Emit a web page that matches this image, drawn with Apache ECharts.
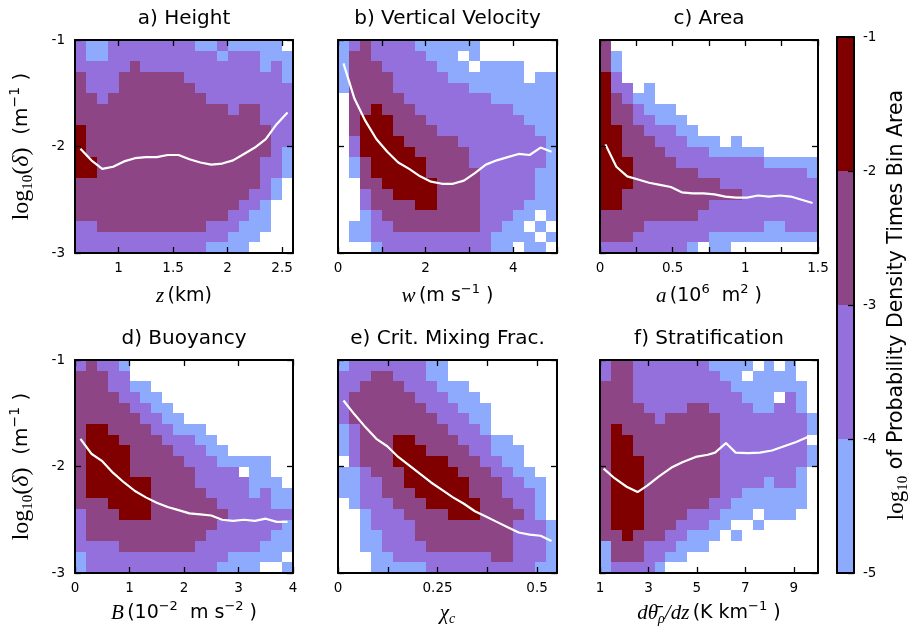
<!DOCTYPE html>
<html><head><meta charset="utf-8">
<script src="https://cdn.jsdelivr.net/npm/echarts@6/dist/echarts.min.js"></script>
<style>html,body{margin:0;padding:0;background:#fff}#c{width:912px;height:632px}</style>
</head><body><div id="c"></div>
<script>
// Cell classes (rows top -> bottom, y from -1 down to -3, 20 x-bins each):
// 0 = empty, 1 = [-5,-4), 2 = [-4,-3), 3 = [-3,-2), 4 = [-2,-1]  (log10 of probability density times bin area)
const gridA = [
"21122222222112111110","21122222222221222111","22222322222222222121","32223333332222222221",
"32223333333222222222","33233333333322222222","33333333333333233222","33333333333333333222",
"43333333333333333322","43333333333333333322","43333333333333333321","44333333333333333221",
"44333333333333333221","33333333333333333210","33333333333333332210","33333333333333322100",
"33333333333333221100","22333333333322211100","22222222222222111000","22222222222211110000"];
const gridB = [
"12322221111110000000","13322222111010000000","13332222211101111000","13333222221111111011",
"13333222222211111111","03333322222222111111","03343332222222221111","03444333222222222111",
"03444333322222222211","02444433333222222221","02444443333322222221","01344444333322222221",
"01344444333332222211","00334444433332222211","00233444433332222211","00233334433332222111",
"00123333333332221101","01122333333332211010","01122222222222111101","00012222222222110110"];
const gridC = [
"30000000000000000000","31000000000000000000","31000000000000000000","42000000000000000000",
"42201000000000000000","43211000000000000000","43321110000000000000","43322111000000000000",
"44332221100000000000","44333222111010000000","44333322221111100000","44433332222222211111",
"44433333322222222221","44433333333222222222","44333333333332222222","44333333332222222222",
"33333333322222222222","33332222222222211222","33322222221111111111","22222222101100000000"];
const gridD = [
"23221000000000000000","33322000000000000000","33322110000000000000","33332211000000000000",
"33333221100000000000","33333322110000000000","34433332211100000000","34443333222110000000",
"34444333322211000000","34444333332221111100","34444333333222201100","34444443333222221110",
"34444443333322221211","33344443333332222211","23334443333333222222","23333333333332222221",
"23333333333322222211","22223333333222222111","12222222222222111110","12222222222221111001"];
const gridE = [
"12222222110000000000","22233222110000000000","22333322211100000000","23333332221110000000",
"23333333222111000000","23333333322211000000","12333333332221000000","12333443333222110000",
"12333444333322111000","02333444443332211000","11233344444333221100","11223344444433322110",
"11223334444433322210","01222333444443332210","00122233334443333210","00122223333333332221",
"00112223333333332221","00112222333333332221","00011222222222332221","00011111222222222211"];
const gridF = [
"23322222221111010100","23322222222110111100","33322222222211111110","33322222222221110210",
"33332222332222112210","33333233333222222221","34333333333222222221","34433333333222222220",
"34433333333222222221","34443333333222222221","34443333333222222210","34443333333222212210",
"34443333333221111110","34443333332211111110","34443333222111011100","34443332221100100000",
"33433322111010000000","13332221110000000000","13332211000000000000","12222100000000000000"];

// Mean curves (white lines)
const lineAx = [0.65,0.75,0.85,0.95,1.05,1.15,1.25,1.35,1.45,1.55,1.65,1.75,1.85,1.95,2.05,2.15,2.25,2.35,2.45,2.55];
const lineAy = [-2.02,-2.13,-2.21,-2.19,-2.14,-2.11,-2.10,-2.10,-2.08,-2.08,-2.12,-2.15,-2.17,-2.16,-2.13,-2.07,-2.01,-1.93,-1.79,-1.68];
const lineBx = [0.125,0.375,0.625,0.875,1.125,1.375,1.625,1.875,2.125,2.375,2.625,2.875,3.125,3.375,3.625,3.875,4.125,4.375,4.625,4.875];
const lineBy = [-1.22,-1.55,-1.76,-1.93,-2.05,-2.15,-2.21,-2.28,-2.33,-2.35,-2.35,-2.32,-2.25,-2.17,-2.13,-2.10,-2.07,-2.08,-2.01,-2.05];
const lineCx = [0.0375,0.1125,0.1875,0.2625,0.3375,0.4125,0.4875,0.5625,0.6375,0.7125,0.7875,0.8625,0.9375,1.0125,1.0875,1.1625,1.2375,1.3125,1.3875,1.4625];
const lineCy = [-1.98,-2.19,-2.28,-2.31,-2.34,-2.36,-2.38,-2.43,-2.44,-2.44,-2.45,-2.47,-2.48,-2.48,-2.46,-2.47,-2.46,-2.47,-2.50,-2.53];
const lineDx = [0.1,0.3,0.5,0.7,0.9,1.1,1.3,1.5,1.7,1.9,2.1,2.3,2.5,2.7,2.9,3.1,3.3,3.5,3.7,3.9];
const lineDy = [-1.74,-1.88,-1.95,-2.06,-2.15,-2.23,-2.29,-2.34,-2.38,-2.41,-2.44,-2.45,-2.46,-2.50,-2.51,-2.50,-2.51,-2.49,-2.52,-2.52];
const lineEx = [0.01375,0.04125,0.06875,0.09625,0.12375,0.15125,0.17875,0.20625,0.23375,0.26125,0.28875,0.31625,0.34375,0.37125,0.39875,0.42625,0.45375,0.48125,0.50875,0.53625];
const lineEy = [-1.38,-1.51,-1.63,-1.74,-1.81,-1.91,-1.99,-2.07,-2.15,-2.22,-2.29,-2.35,-2.42,-2.47,-2.52,-2.57,-2.62,-2.64,-2.65,-2.70];
const lineFx = [1.15,1.6,2.1,2.55,2.95,3.45,3.95,4.4,4.95,5.45,5.75,6.2,6.6,7.1,7.6,8.1,8.6,9.1,9.6];
const lineFy = [-2.02,-2.11,-2.19,-2.24,-2.18,-2.09,-2.01,-1.96,-1.91,-1.89,-1.87,-1.78,-1.87,-1.875,-1.87,-1.85,-1.81,-1.77,-1.72];

// Axis ranges, ticks and labels
const titles = ["a) Height","b) Vertical Velocity","c) Area","d) Buoyancy","e) Crit. Mixing Frac.","f) Stratification"];
const xRanges = [[0.6,2.6],[0,5],[0,1.5],[0,4],[0,0.55],[1,10]];
const xTicks = [[1,1.5,2,2.5],[0,1,2,3,4,5],[0,0.25,0.5,0.75,1,1.25,1.5],[0,1,2,3,4],[0,0.125,0.25,0.375,0.5],[1,3,5,7,9]];
const xTickLabels = [[1,1.5,2,2.5],[0,2,4],[0,0.5,1,1.5],[0,1,2,3,4],[0,0.25,0.5],[1,3,5,7,9]];
const yRange = [-3,-1];
const yTicks = [-3,-2,-1];
const cbTicks = [-5,-4,-3,-2,-1];
const xNames = [
  "{i|z} {n|(km)}",
  "{i|w} {n|(m s}{sp|−1}{n| )}",
  "{i|a} {n|(10}{sp|6}{n|  m}{sp|2}{n| )}",
  "{i|B} {n|(10}{sp|−2}{n|  m s}{sp|−2}{n| )}",
  "{i|χ}{sb|c}",
  "{i|dθ̄}{sb|ρ}{i|/dz} {n|(K km}{sp|−1}{n| )}"
];
const yName = "{s|log}{sb|10}{s|(}{i|δ}{s|)}{n|  (m}{sp|−1}{n| )}";
const cbName = "{s|log}{sb|10}{n| of Probability Density Times Bin Area}";

const levelColors = [null,'#8daafc','#9370db','#8e4585','#800000'];
const grids = [gridA,gridB,gridC,gridD,gridE,gridF];
const lines = [[lineAx,lineAy],[lineBx,lineBy],[lineCx,lineCy],[lineDx,lineDy],[lineEx,lineEy],[lineFx,lineFy]];

const boxes = [[75,40,218,213],[338,40,219,213],[600,40,218,213],[75,360,218,213],[338,360,219,213],[600,360,218,213]];

const rich = {
  n:{fontFamily:'DejaVu Sans',fontSize:19,lineHeight:26,color:'#000'},
  s:{fontFamily:'Liberation Serif',fontSize:21,lineHeight:26,color:'#000'},
  i:{fontFamily:'Liberation Serif',fontStyle:'italic',fontSize:21,lineHeight:26,color:'#000'},
  sp:{fontFamily:'DejaVu Sans',fontSize:13,lineHeight:13,verticalAlign:'top',color:'#000'},
  sb:{fontFamily:'Liberation Serif',fontStyle:'italic',fontSize:14,lineHeight:14,verticalAlign:'bottom',color:'#000'}
};
const richY = {
  n:{fontFamily:'DejaVu Sans',fontSize:20,lineHeight:28,color:'#000'},
  s:{fontFamily:'Liberation Serif',fontSize:24,lineHeight:28,color:'#000'},
  i:{fontFamily:'Liberation Serif',fontStyle:'italic',fontSize:24,lineHeight:28,color:'#000'},
  sp:{fontFamily:'DejaVu Sans',fontSize:14,lineHeight:14,verticalAlign:'top',color:'#000'},
  sb:{fontFamily:'Liberation Serif',fontSize:15,lineHeight:14,verticalAlign:'bottom',color:'#000'}
};
const richCb = {
  n:{fontFamily:'DejaVu Sans',fontSize:20.5,lineHeight:28,color:'#000'},
  s:{fontFamily:'Liberation Serif',fontSize:23,lineHeight:28,color:'#000'},
  sb:{fontFamily:'Liberation Serif',fontSize:15,lineHeight:14,verticalAlign:'bottom',color:'#000'}
};

function cells(rows, xr, yr){
  const nr = rows.length, nc = rows[0].length;
  const dx = (xr[1]-xr[0])/nc, dy = (yr[1]-yr[0])/nr;
  const out = [];
  rows.forEach((row,r)=>{
    for(let c=0;c<nc;c++){
      const k = +row[c];
      if(k>0) out.push([xr[0]+c*dx, yr[1]-(r+1)*dy, xr[0]+(c+1)*dx, yr[1]-r*dy, k]);
    }
  });
  return out;
}
function renderCell(params, api){
  const a = api.coord([api.value(0), api.value(1)]);
  const b = api.coord([api.value(2), api.value(3)]);
  const x0 = Math.round(a[0]), x1 = Math.round(b[0]), y0 = Math.round(b[1]), y1 = Math.round(a[1]);
  return {type:'rect', shape:{x:x0,y:y0,width:x1-x0,height:y1-y0}, style:{fill:levelColors[api.value(4)]}};
}
function axisBase(gi, min, max, ticks, pos){
  return {type:'value', gridIndex:gi, min:min, max:max, position:pos, z:5,
    axisLine:{show:true,onZero:false,lineStyle:{color:'#000',width:2}},
    axisTick:{show:true,inside:true,length:6,customValues:ticks,lineStyle:{color:'#000',width:1.3}},
    axisLabel:{show:false}, splitLine:{show:false}};
}

const option = {animation:false, grid:[], xAxis:[], yAxis:[], series:[]};
const labelStyle = {show:true,fontFamily:'DejaVu Sans',fontSize:13.5,color:'#000'};
for(let i=0;i<6;i++){
  const bx = boxes[i];
  option.grid.push({left:bx[0],top:bx[1],width:bx[2],height:bx[3],containLabel:false});
  const xb = axisBase(i, xRanges[i][0], xRanges[i][1], xTicks[i], 'bottom');
  xb.axisLabel = Object.assign({}, labelStyle, {customValues:xTickLabels[i], margin:8});
  xb.name = xNames[i]; xb.nameLocation='middle'; xb.nameGap = (i<3?30:27);
  xb.nameTextStyle = {rich:rich};
  const xt = axisBase(i, xRanges[i][0], xRanges[i][1], xTicks[i], 'top');
  xt.name = titles[i]; xt.nameLocation='middle'; xt.nameGap = 11;
  xt.nameTextStyle = {fontFamily:'DejaVu Sans',fontSize:20,color:'#000'};
  option.xAxis.push(xb, xt);
  const yl = axisBase(i, yRange[0], yRange[1], yTicks, 'left');
  if(i===0||i===3){
    yl.axisLabel = Object.assign({}, labelStyle, {customValues:yTicks, margin:10});
    yl.name = yName; yl.nameLocation='middle'; yl.nameRotate=90; yl.nameGap=39;
    yl.nameTextStyle = {rich:richY};
  }
  const yr = axisBase(i, yRange[0], yRange[1], yTicks, 'right');
  option.yAxis.push(yl, yr);
  option.series.push({type:'custom', xAxisIndex:2*i, yAxisIndex:2*i, renderItem:renderCell,
    encode:{x:[0,2],y:[1,3]}, data:cells(grids[i], xRanges[i], yRange), z:2, silent:true, clip:true});
  option.series.push({type:'line', xAxisIndex:2*i, yAxisIndex:2*i, data:lines[i][0].map((x,k)=>[x,lines[i][1][k]]),
    showSymbol:false, symbol:'none', lineStyle:{color:'#fff',width:2.2}, z:3, silent:true});
}
// colorbar
option.grid.push({left:837,top:37,width:20,height:536});
const cbx = axisBase(6,0,1,[],'bottom'); cbx.axisTick={show:false};
const cbxt = axisBase(6,0,1,[],'top'); cbxt.axisTick={show:false};
option.xAxis.push(cbx, cbxt);
const cbl = axisBase(6,-5,-1,[],'left'); cbl.axisTick={show:false};
const cbr = axisBase(6,-5,-1,cbTicks,'right');
cbr.axisLabel = Object.assign({}, labelStyle, {customValues:cbTicks, margin:9});
cbr.name = cbName; cbr.nameLocation='middle'; cbr.nameRotate=90; cbr.nameGap=29;
cbr.nameTextStyle = {rich:richCb};
option.yAxis.push(cbl, cbr);
const cbData = [];
for(let k=0;k<cbTicks.length-1;k++) cbData.push([0,cbTicks[k],1,cbTicks[k+1],k+1]);
option.series.push({type:'custom', xAxisIndex:12, yAxisIndex:12, renderItem:renderCell,
  encode:{x:[0,2],y:[1,3]}, data:cbData, z:2, silent:true});

const chart = echarts.init(document.getElementById('c'), null, {renderer:'canvas'});
chart.setOption(option);
</script>
</body></html>
